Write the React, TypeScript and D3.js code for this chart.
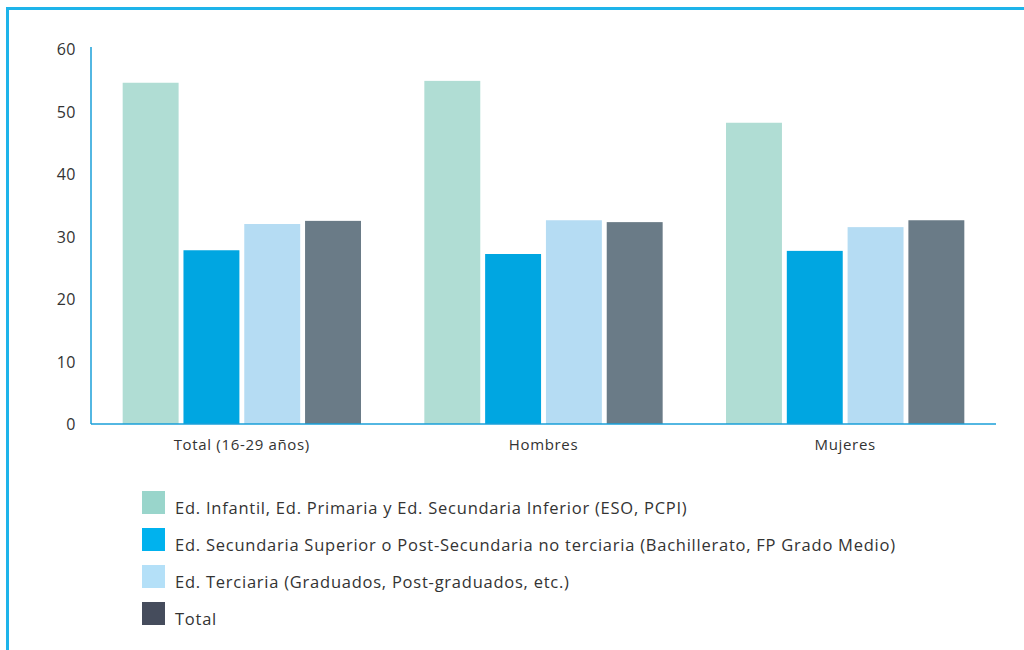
import React, { useEffect, useRef } from "react";
import * as d3 from "d3";

const categories = ["Total (16-29 años)", "Hombres", "Mujeres"];
const seriesNames = [
  "Ed. Infantil, Ed. Primaria y Ed. Secundaria Inferior (ESO, PCPI)",
  "Ed. Secundaria Superior o Post-Secundaria no terciaria (Bachillerato, FP Grado Medio)",
  "Ed. Terciaria (Graduados, Post-graduados, etc.)",
  "Total",
];
const infantil = [54.6, 54.9, 48.2];
const secundaria = [27.8, 27.2, 27.7];
const terciaria = [32.0, 32.6, 31.5];
const total = [32.5, 32.3, 32.6];
const yTicks = [0, 10, 20, 30, 40, 50, 60];

const barColors = ["#b0ddd4", "#00a6e1", "#b5dcf3", "#6a7b87"];
const legendColors = ["#99d5cb", "#00b2ee", "#b4e0f8", "#454c5c"];

export default function App() {
  const ref = useRef<SVGSVGElement>(null);
  useEffect(() => {
    const svg = d3.select(ref.current);
    svg.selectAll("*").remove();
    const font = "'Open Sans', sans-serif";
    const textColor = "#333";
    const series = [infantil, secundaria, terciaria, total];

    // frame
    svg.append("path")
      .attr("d", "M7.5,650 L7.5,8.5 L1024,8.5")
      .attr("fill", "none").attr("stroke", "#1eb4ea").attr("stroke-width", 3);

    const left = 91, right = 996, top = 49, bottom = 424;
    const x0 = d3.scaleBand().domain(categories).range([left, right]).paddingInner(0.21).paddingOuter(0.105);
    const x1 = d3.scaleBand().domain(d3.range(4).map(String)).range([0, x0.bandwidth()]).paddingInner(0.08);
    const y = d3.scaleLinear().domain([0, 60]).range([bottom, top]);

    const g = svg.append("g");
    categories.forEach((c, ci) => {
      series.forEach((s, si) => {
        g.append("rect")
          .attr("x", (x0(c) as number) + (x1(String(si)) as number))
          .attr("y", y(s[ci]))
          .attr("width", x1.bandwidth())
          .attr("height", bottom - y(s[ci]))
          .attr("fill", barColors[si]);
      });
      svg.append("text")
        .attr("x", (x0(c) as number) + x0.bandwidth() / 2)
        .attr("y", 450)
        .attr("text-anchor", "middle")
        .attr("font-family", font).attr("font-size", 15).attr("letter-spacing", 0.67).attr("fill", textColor)
        .text(c);
    });

    // axes
    svg.append("line").attr("x1", left).attr("x2", left).attr("y1", top - 2).attr("y2", bottom)
      .attr("stroke", "#1a9fd8").attr("stroke-width", 1.5);
    svg.append("line").attr("x1", left).attr("x2", right).attr("y1", bottom).attr("y2", bottom)
      .attr("stroke", "#1a9fd8").attr("stroke-width", 1.5);

    yTicks.forEach((t) => {
      svg.append("text")
        .attr("x", 76).attr("y", y(t) + 6)
        .attr("text-anchor", "end")
        .attr("font-family", font).attr("font-size", 16).attr("letter-spacing", 0.5).attr("fill", textColor)
        .text(String(t));
    });

    // legend
    seriesNames.forEach((n, i) => {
      const yy = 491 + i * 37;
      svg.append("rect").attr("x", 142).attr("y", yy).attr("width", 23).attr("height", 23).attr("fill", legendColors[i]);
      svg.append("text")
        .attr("x", 175).attr("y", yy + 23)
        .attr("font-family", font).attr("font-size", 16.5).attr("letter-spacing", 0.76).attr("fill", textColor)
        .text(n);
    });
  }, []);
  return (
    <div style={{ position: "fixed", left: 0, top: 0 }}>
      <svg ref={ref} width={1024} height={650} style={{ display: "block", background: "#fff" }} />
    </div>
  );
}
